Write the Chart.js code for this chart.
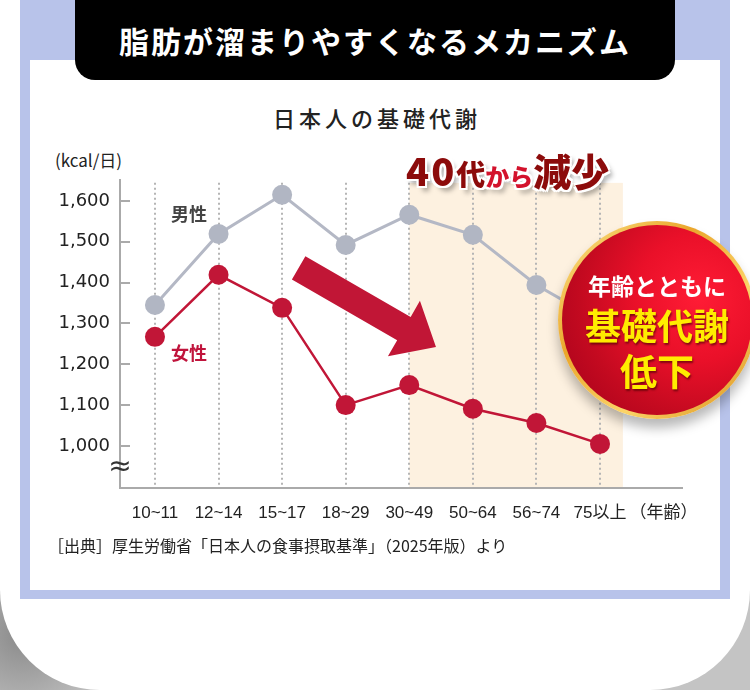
<!DOCTYPE html>
<html lang="ja">
<head>
<meta charset="utf-8">
<script src="https://cdn.jsdelivr.net/npm/chart.js@4.4.1/dist/chart.umd.min.js"></script>
<style>
  html, body { margin: 0; padding: 0; }
  body {
    width: 750px; height: 690px; overflow: hidden; position: relative;
    background: radial-gradient(circle at 3% 92%, #8a8a8a 0, #b9b9b9 8%, #d6d6d6 16%, #c4c4c4 30%),
                radial-gradient(circle at 97% 90%, #9a9a9a 0, #c8c8c8 12%, #d8d8d8 30%);
    font-family: "Noto Sans CJK JP", sans-serif;
  }
  .card { position: absolute; left: 0; top: 0; width: 750px; height: 690px; background: #fff; border-radius: 0 0 100px 100px; }
  .frame { position: absolute; left: 20px; top: 0; width: 710px; height: 599px; background: #b8c3ea; }
  .inner { position: absolute; left: 30px; top: 60px; width: 690px; height: 530px; background: #fff; }
  .header {
    position: absolute; left: 75px; top: -20px; width: 600px; height: 100px; background: #000;
    border-radius: 20px; color: #fff; font-weight: bold; font-size: 30px; letter-spacing: 2px;
    box-sizing: border-box; padding-top: 20px; line-height: 80px; text-align: center;
  }
  .title { position: absolute; left: 0; width: 750px; top: 102px; text-align: center; font-size: 22px; font-weight: 500; color: #222; letter-spacing: 4px; line-height: 30px; padding-left: 4px; box-sizing: border-box; }
  .unit { position: absolute; left: 55px; top: 148px; font-size: 17px; color: #222; line-height: 24px; }
  canvas { position: absolute; left: 0; top: 0; }
  .lbl { position: absolute; font-size: 18px; font-weight: bold; line-height: 22px; }
  .male { left: 171px; top: 202px; color: #444; }
  .female { left: 171px; top: 341px; color: #c0143c; }
  .callout {
    position: absolute; left: 406px; top: 145px; font-weight: 900; color: #8c0b0b; line-height: 50px; white-space: nowrap;
    text-shadow: -2px -2px 0 #fff, 2px -2px 0 #fff, -2px 2px 0 #fff, 2px 2px 0 #fff, 0 -2px 0 #fff, 0 2px 0 #fff, 4px 5px 5px rgba(0,0,0,0.35);
  }
  .callout .n { font-size: 38px; letter-spacing: 2px; }
  .callout .m { font-size: 29px; }
  .callout .s { font-size: 24px; color: #d3122c; }
  .callout .l { font-size: 38px; }
  .badge {
    position: absolute; left: 558px; top: 221px; width: 198px; height: 198px; border-radius: 50%;
    background: linear-gradient(135deg, #fde88e 0%, #eaa62c 35%, #fbd468 65%, #d98d18 100%);
    box-shadow: 0 9px 12px rgba(0,0,0,0.28);
  }
  .badge .in {
    position: absolute; left: 4px; top: 4px; width: 190px; height: 190px; border-radius: 50%;
    background: radial-gradient(circle at 72% 38%, #ff1c35 0%, #ea1029 35%, #c40a20 65%, #a0001a 100%);
    text-align: center; font-weight: bold;
  }
  .badge .t1 { position: absolute; left: 0; width: 100%; top: 44px; font-size: 23px; color: #fff; line-height: 32px; }
  .badge .t2 { position: absolute; left: 0; width: 100%; top: 76px; font-size: 36px; color: #ffec00; line-height: 46px; text-shadow: 1px 2px 2px rgba(70,0,0,0.6); }
  .badge .t3 { position: absolute; left: 0; width: 100%; top: 122px; font-size: 37px; color: #ffec00; line-height: 46px; text-shadow: 1px 2px 2px rgba(70,0,0,0.6); }
  .source { position: absolute; left: 48px; top: 534px; font-size: 16px; color: #222; line-height: 22px; white-space: nowrap; }
</style>
</head>
<body>
<div class="card"></div>
<div class="frame"></div>
<div class="inner"></div>
<div class="header">脂肪が溜まりやすくなるメカニズム</div>
<div class="title">日本人の基礎代謝</div>
<div class="unit">(kcal/日)</div>
<canvas id="bmrChart" width="750" height="690"></canvas>
<div class="lbl male">男性</div>
<div class="lbl female">女性</div>
<div class="callout"><span class="n">40</span><span class="m">代</span><span class="s">から</span><span class="l">減少</span></div>
<div class="badge"><div class="in">
  <div class="t1">年齢とともに</div>
  <div class="t2">基礎代謝</div>
  <div class="t3">低下</div>
</div></div>
<div class="source">［出典］厚生労働省「日本人の食事摂取基準」（2025年版）より</div>

<script>
// 年齢区分（図のとおり）
const ageGroups = ['10~11', '12~14', '15~17', '18~29', '30~49', '50~64', '56~74', '75以上'];
const xTickLabels = [...ageGroups, '（年齢）'];
// 基礎代謝量 (kcal/日)
const maleBmr = [1345, 1519, 1615, 1492, 1566, 1517, 1394, 1305];
const femaleBmr = [1267, 1419, 1338, 1100, 1149, 1091, 1056, 1005];
const yTicks = [1000, 1100, 1200, 1300, 1400, 1500, 1600];

const ctx = document.getElementById('bmrChart').getContext('2d');

const toPoints = arr => arr.map((v, i) => ({ x: i, y: v }));

// 背景の帯・点線・矢印・波線
const decorPlugin = {
  id: 'decor',
  beforeDatasetsDraw(chart) {
    const { ctx, scales: { x, y } } = chart;
    const top = y.getPixelForValue(1644);
    const bottom = y.getPixelForValue(y.min) - 1;
    const left = x.getPixelForValue(4);
    const right = x.getPixelForValue(7.36);
    ctx.save();
    ctx.fillStyle = '#fdf1e0';
    ctx.fillRect(left, top, right - left, bottom - top);
    ctx.strokeStyle = '#b5b5b5';
    ctx.lineWidth = 2;
    ctx.setLineDash([2, 3]);
    ageGroups.forEach((_, i) => {
      const px = Math.round(x.getPixelForValue(i));
      ctx.beginPath();
      ctx.moveTo(px, top);
      ctx.lineTo(px, bottom);
      ctx.stroke();
    });
    ctx.restore();
  },
  afterDatasetsDraw(chart) {
    const { ctx, scales: { x, y }, chartArea } = chart;
    ctx.save();
    // y軸の目盛り（内向き）
    ctx.strokeStyle = '#aaaaaa';
    ctx.lineWidth = 2;
    yTicks.forEach(v => {
      const py = Math.round(y.getPixelForValue(v));
      ctx.beginPath();
      ctx.moveTo(chartArea.left, py);
      ctx.lineTo(chartArea.left + 10, py);
      ctx.stroke();
    });
    // 省略記号
    ctx.fillStyle = '#333';
    ctx.font = '28px "DejaVu Sans"';
    ctx.textAlign = 'center';
    ctx.textBaseline = 'middle';
    ctx.fillText('≈', chartArea.left, y.getPixelForValue(946));

    // 下向き矢印
    const p0 = { x: x.getPixelForValue(2.26), y: y.getPixelForValue(1436) };
    const p1 = { x: x.getPixelForValue(4.42), y: y.getPixelForValue(1242) };
    const dx = p1.x - p0.x, dy = p1.y - p0.y, len = Math.hypot(dx, dy);
    const ux = dx / len, uy = dy / len, nx = -uy, ny = ux;
    const sw = 13.5, hw = 32, hl = 37;
    const bx = p1.x - ux * hl, by = p1.y - uy * hl;
    ctx.fillStyle = '#c11636';
    ctx.beginPath();
    ctx.moveTo(p0.x + nx * sw, p0.y + ny * sw);
    ctx.lineTo(bx + nx * sw, by + ny * sw);
    ctx.lineTo(bx + nx * hw, by + ny * hw);
    ctx.lineTo(p1.x, p1.y);
    ctx.lineTo(bx - nx * hw, by - ny * hw);
    ctx.lineTo(bx - nx * sw, by - ny * sw);
    ctx.lineTo(p0.x - nx * sw, p0.y - ny * sw);
    ctx.closePath();
    ctx.fill();
    ctx.restore();
  }
};

const bmrChart = new Chart(ctx, {
  type: 'line',
  data: {
    datasets: [
      {
        label: '男性',
        data: toPoints(maleBmr),
        borderColor: '#b4b8c5',
        backgroundColor: '#b1b6c3',
        borderWidth: 3,
        pointRadius: 10,
        pointBorderWidth: 0,
        tension: 0,
        fill: false,
        clip: false,
      },
      {
        label: '女性',
        data: toPoints(femaleBmr),
        borderColor: '#c11637',
        backgroundColor: '#c11637',
        borderWidth: 2.5,
        pointRadius: 10,
        pointBorderWidth: 0,
        tension: 0,
        fill: false,
        clip: false,
      }
    ]
  },
  options: {
    responsive: false,
    animation: false,
    events: [],
    layout: { padding: { top: 180, right: 68, bottom: 162, left: 0 } },
    plugins: {
      legend: { display: false },
      tooltip: { enabled: false }
    },
    scales: {
      x: {
        type: 'linear',
        min: -0.55,
        max: 8.29,
        afterBuildTicks: scale => { scale.ticks = xTickLabels.map((_, i) => ({ value: i })); },
        afterFit: scale => { scale.height = 40; },
        grid: { display: false, drawTicks: false },
        border: { display: true, color: '#aaaaaa', width: 2 },
        ticks: {
          autoSkip: false,
          maxRotation: 0,
          padding: 15,
          color: '#222',
          font: { family: '"Liberation Sans", Arial, "Noto Sans CJK JP"', size: 17 },
          callback: v => xTickLabels[v] ?? ''
        }
      },
      y: {
        min: 897,
        max: 1651,
        afterBuildTicks: scale => { scale.ticks = yTicks.map(v => ({ value: v })); },
        afterFit: scale => { scale.width = 120; },
        grid: { display: false, drawTicks: false },
        border: { display: true, color: '#aaaaaa', width: 2 },
        ticks: {
          padding: 10,
          color: '#222',
          font: { family: '"DejaVu Sans"', size: 18 },
          callback: v => v.toLocaleString('en-US')
        }
      }
    }
  },
  plugins: [decorPlugin]
});
</script>
</body>
</html>
